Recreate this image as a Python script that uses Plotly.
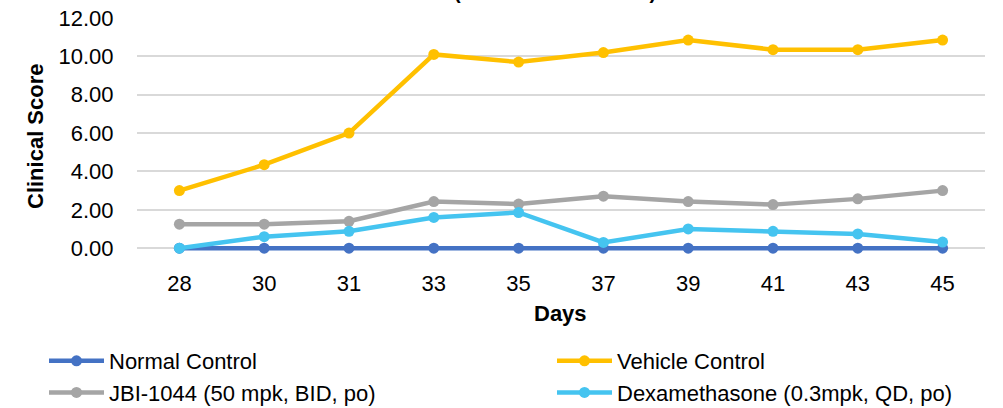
import plotly.graph_objects as go

days = ["28", "30", "31", "33", "35", "37", "39", "41", "43", "45"]
normal = [0, 0, 0, 0, 0, 0, 0, 0, 0, 0]
vehicle = [3.0, 4.35, 6.0, 10.1, 9.7, 10.2, 10.85, 10.35, 10.35, 10.85]
jbi = [1.25, 1.25, 1.4, 2.43, 2.3, 2.71, 2.43, 2.27, 2.57, 3.0]
dexa = [0.0, 0.6, 0.88, 1.6, 1.86, 0.3, 1.0, 0.88, 0.74, 0.32]
y_ticks = [0, 2, 4, 6, 8, 10, 12]

series = [
    ("Normal Control", normal, "#4472C4", "legend"),
    ("Vehicle Control", vehicle, "#FFC000", "legend2"),
    ("JBI-1044 (50 mpk, BID, po)", jbi, "#A5A5A5", "legend"),
    ("Dexamethasone (0.3mpk, QD, po)", dexa, "#45C4F0", "legend2"),
]

FONT = "Liberation Sans, Arial, sans-serif"

fig = go.Figure()
for name, vals, col, lg in series:
    fig.add_trace(go.Scatter(
        x=days, y=vals, name=name, mode="lines+markers",
        line=dict(color=col, width=4.5),
        marker=dict(color=col, size=11, symbol="circle"),
        cliponaxis=False, legend=lg,
    ))

W, H = 1003, 408
L, R, T, B = 137, 18, 18, 156
pw = W - L - R
ph = H - T - B


def px(p):
    return (T + ph - p) / ph


def pxx(p):
    return (p - L) / pw


leg_common = dict(
    orientation="v", yanchor="top", xanchor="left",
    font=dict(size=22, family=FONT, color="black"),
    itemwidth=55, tracegroupgap=0, bgcolor="rgba(0,0,0,0)",
)

fig.update_layout(
    width=W, height=H,
    margin=dict(l=L, r=R, t=T, b=B, pad=0, autoexpand=False),
    paper_bgcolor="white", plot_bgcolor="white",
    font=dict(family=FONT, size=22, color="black"),
    showlegend=True,
    legend=dict(x=pxx(44), y=px(340), **leg_common),
    legend2=dict(x=pxx(552), y=px(340), **leg_common),
    xaxis=dict(
        type="category", range=[-0.5, 9.5], showgrid=False,
        showline=False,
        ticks="outside", ticklen=12, tickcolor="rgba(0,0,0,0)",
        tickfont=dict(size=22, family=FONT),
    ),
    yaxis=dict(
        range=[-0.2, 12], tickvals=y_ticks, tickformat=".2f",
        showgrid=True, gridcolor="#D9D9D9", gridwidth=2,
        zeroline=False, showline=False,
        ticks="outside", ticklen=18, tickcolor="rgba(0,0,0,0)",
        tickfont=dict(size=22, family=FONT),
    ),
    annotations=[
        dict(text="<b>Days</b>", xref="paper", yref="paper",
             x=pxx(560), y=px(313),
             xanchor="center", yanchor="middle", showarrow=False,
             font=dict(size=22, family=FONT)),
        dict(text="<b>Clinical Score</b>", xref="paper", yref="paper",
             x=pxx(35), y=px(136), textangle=-90,
             xanchor="center", yanchor="middle", showarrow=False,
             font=dict(size=22, family=FONT)),
        dict(text="<b>(Mean Clinical Score)</b>", xref="paper", yref="paper",
             x=pxx(555), y=px(5),
             xanchor="center", yanchor="bottom", showarrow=False,
             font=dict(size=20, family=FONT)),
    ],
)

fig.write_html("out.html")
